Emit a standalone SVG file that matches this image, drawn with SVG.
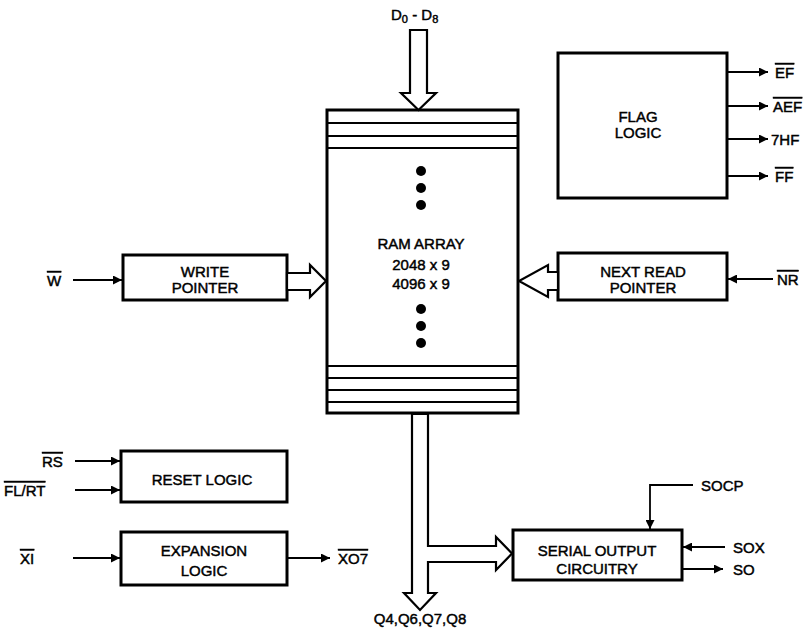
<svg xmlns="http://www.w3.org/2000/svg" width="810" height="630" viewBox="0 0 810 630">
<style>
.box{fill:#fff;stroke:#000;stroke-width:3}
.ln{fill:none;stroke:#000;stroke-width:2}
.thin{fill:none;stroke:#000;stroke-width:1.8}
.hol{fill:#fff;stroke:#000;stroke-width:2.2;stroke-linejoin:miter}
text{font-family:"Liberation Sans",Arial,sans-serif;font-size:15px;fill:#000;stroke:#000;stroke-width:0.45}
.c{text-anchor:middle}
.ob{text-decoration:overline}
</style>
<defs>
<marker id="ah" viewBox="0 0 10 10" refX="10" refY="5" markerWidth="6" markerHeight="5" orient="auto" markerUnits="strokeWidth">
<path d="M0,0 L10,5 L0,10 z" fill="#000"/>
</marker>
</defs>
<rect width="810" height="630" fill="#fff"/>

<g id="ram">
<rect class="box" x="327" y="110" width="191" height="303"/>
<path class="ln" d="M327,123H518M327,136H518M327,148H518M327,366H518M327,378H518M327,390H518M327,402H518"/>
<circle cx="421" cy="171" r="5"/><circle cx="421" cy="188" r="5"/><circle cx="421" cy="205" r="5"/>
<circle cx="421" cy="309" r="5"/><circle cx="421" cy="326" r="5"/><circle cx="421" cy="343" r="5"/>
<text class="c" x="421" y="249" font-size="16">RAM ARRAY</text>
<text class="c" x="421" y="270" font-size="16">2048 x 9</text>
<text class="c" x="421" y="289" font-size="16">4096 x 9</text>
</g>

<g id="flag">
<rect class="box" x="558" y="53" width="169" height="145"/>
<text class="c" x="638" y="122">FLAG</text>
<text class="c" x="638" y="138">LOGIC</text>
</g>

<g id="write">
<rect class="box" x="123" y="255" width="164" height="45"/>
<text class="c" x="205" y="277">WRITE</text>
<text class="c" x="205" y="293">POINTER</text>
</g>

<g id="nextread">
<rect class="box" x="558" y="253" width="169" height="47"/>
<text class="c" x="643" y="277">NEXT READ</text>
<text class="c" x="643" y="293">POINTER</text>
</g>

<g id="reset">
<rect class="box" x="121" y="451" width="166" height="51"/>
<text class="c" x="202" y="485">RESET LOGIC</text>
</g>

<g id="expansion">
<rect class="box" x="121" y="532" width="166" height="53"/>
<text class="c" x="204" y="556">EXPANSION</text>
<text class="c" x="204" y="576">LOGIC</text>
</g>

<g id="serial">
<rect class="box" x="513" y="530" width="169" height="50"/>
<text class="c" x="597" y="556">SERIAL OUTPUT</text>
<text class="c" x="597" y="574">CIRCUITRY</text>
</g>

<g id="connectors">
<polygon class="hol" points="410,30 427,30 427,93 436,93 418.5,110 401,93 410,93"/>
<polygon class="hol" points="287,273 310,273 310,265 326,281 310,297 310,290 287,290"/>
<polygon class="hol" points="558,272 548,272 548,265 519,281 548,297 548,290 558,290"/>
<polygon class="hol" points="412,414 412,593 404,593 420,610 436,593 428,593 428,562 496,562 496,570 512,553.5 496,537 496,546 428,546 428,414"/>
<line class="thin" x1="727" y1="72" x2="768" y2="72" marker-end="url(#ah)"/>
<line class="thin" x1="727" y1="106" x2="768" y2="106" marker-end="url(#ah)"/>
<line class="thin" x1="727" y1="139" x2="768" y2="139" marker-end="url(#ah)"/>
<line class="thin" x1="727" y1="176" x2="768" y2="176" marker-end="url(#ah)"/>
<line class="thin" x1="73" y1="280" x2="122" y2="280" marker-end="url(#ah)"/>
<line class="thin" x1="773" y1="279" x2="728" y2="279" marker-end="url(#ah)"/>
<line class="thin" x1="75" y1="461" x2="120" y2="461" marker-end="url(#ah)"/>
<line class="thin" x1="75" y1="490" x2="120" y2="490" marker-end="url(#ah)"/>
<line class="thin" x1="73" y1="558" x2="120" y2="558" marker-end="url(#ah)"/>
<line class="thin" x1="287" y1="558" x2="330" y2="558" marker-end="url(#ah)"/>
<polyline class="thin" points="693,485 650,485 650,529" marker-end="url(#ah)"/>
<line class="thin" x1="725" y1="547" x2="683" y2="547" marker-end="url(#ah)"/>
<line class="thin" x1="682" y1="569" x2="723" y2="569" marker-end="url(#ah)"/>
</g>

<g id="labels">
<text x="391" y="20">D<tspan font-size="11" dy="3">0</tspan><tspan dy="-3"> - D</tspan><tspan font-size="11" dy="3">8</tspan></text>
<text x="775" y="78" class="ob">EF</text>
<text x="773" y="112" class="ob">AEF</text>
<text x="771" y="145">7HF</text>
<text x="775" y="182" class="ob">FF</text>
<text x="47" y="286" class="ob">W</text>
<text x="777" y="285" class="ob">NR</text>
<text x="42" y="467" class="ob">RS</text>
<text x="4" y="496" class="ob">FL/RT</text>
<text x="20" y="564" class="ob">XI</text>
<text x="338" y="564" class="ob">XO7</text>
<text class="c" x="420" y="624">Q4,Q6,Q7,Q8</text>
<text x="701" y="491">SOCP</text>
<text x="733" y="553">SOX</text>
<text x="733" y="575">SO</text>
</g>
</svg>
